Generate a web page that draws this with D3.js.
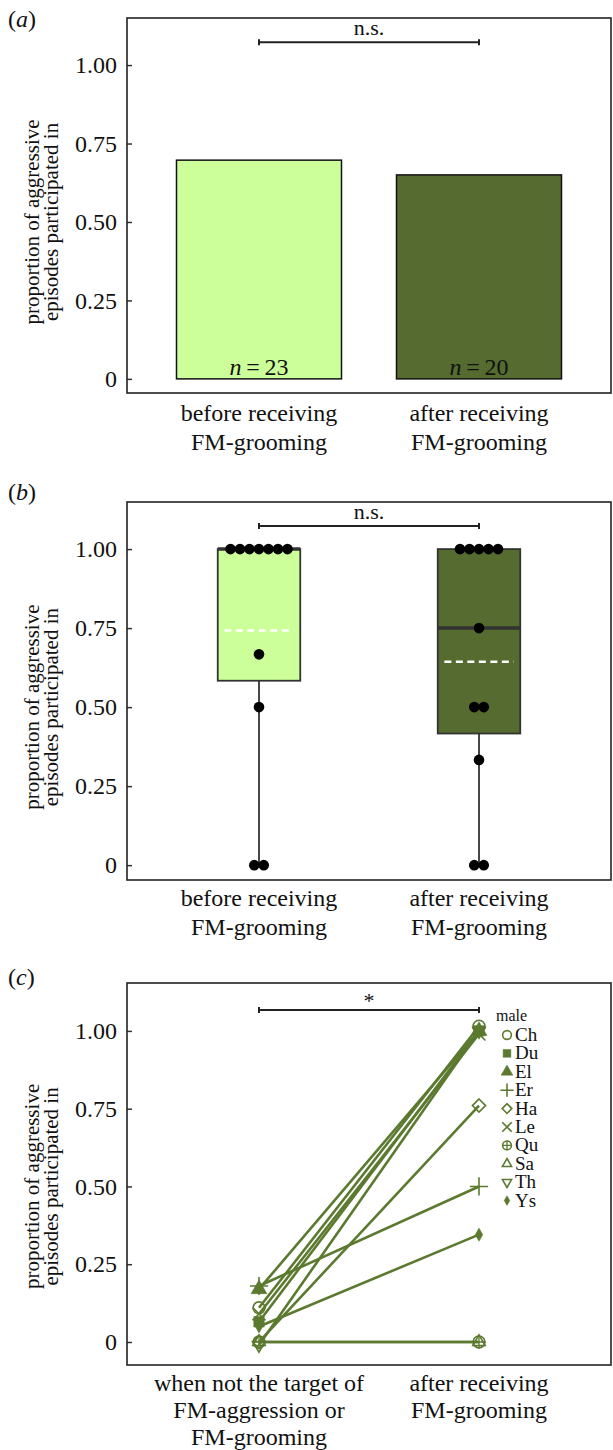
<!DOCTYPE html>
<html>
<head>
<meta charset="utf-8">
<script src="https://cdn.jsdelivr.net/npm/d3@7"></script>
<style>
body{margin:0;background:#fff}
text{font-family:"Liberation Serif","Times New Roman",serif;fill:#111}
</style>
</head>
<body>
<div id="chart"></div>
<script>
// data
var groupKeys=["before","after"]
var groupLabels=[["before receiving","FM-grooming"],["after receiving","FM-grooming"]]
var barProps=[0.697,0.65]
var barN=[23,20]
var beforeProps=[0,0,0.5,0.667,1,1,1,1,1,1,1]
var afterProps=[0,0,0.333,0.5,0.5,0.75,1,1,1,1,1]
var contextKeys=["notTarget","afterGroom"]
var contextLabels=[["when not the target of","FM-aggression or","FM-grooming"],["after receiving","FM-grooming"]]
var males=["Ch","Du","El","Er","Ha","Le","Qu","Sa","Th","Ys"]
var notTargetProps=[0.11,0.065,0.17,0.18,0,0.09,0,0,-0.01,0.05]
var afterGroomProps=[1.015,1.0,1.0,0.5,0.76,0.99,0,0,1.0,0.345]
var yTicks=[0,0.25,0.5,0.75,1]

var svgWidth=613
var svgHeight=1450
var lightGreen="#ccff99"
var darkGreen="#556b2f"
var lineGreen="#5b7a2f"
var fills=[lightGreen,darkGreen]
var frameLeft=127, frameRight=611

var svg=d3.select("#chart")
    .append("svg")
    .attr("width",svgWidth)
    .attr("height",svgHeight)

var fmt=d=>d===0?"0":d3.format(".2f")(d)

function makePanel(top,bottom,lo,hi,letter,letterY,keys,labels,labelY,labelGap){
    var g=svg.append("g")
    var y=d3.scaleLinear().domain([lo,hi]).range([bottom,top])
    var x=d3.scalePoint().domain(keys).range([frameLeft,frameRight]).padding(0.6)

    g.append("g")
        .attr("transform",`translate(${frameLeft},0)`)
        .call(d3.axisLeft(y).tickValues(yTicks).tickFormat(fmt).tickSize(-5).tickPadding(10))
        .call(a=>a.select(".domain").remove())
        .call(a=>a.selectAll("line").attr("stroke","#333").attr("stroke-width",1.5))
        .call(a=>a.selectAll("text").attr("font-size",24).attr("fill","#111")
            .style("font-family","'Liberation Serif','Times New Roman',serif"))

    g.append("rect")
        .attr("x",frameLeft).attr("y",top)
        .attr("width",frameRight-frameLeft).attr("height",bottom-top)
        .attr("fill","none").attr("stroke","#222").attr("stroke-width",1.6)

    var letterText=g.append("text").attr("x",8).attr("y",letterY).attr("font-size",24)
    letterText.append("tspan").text("(")
    letterText.append("tspan").attr("font-style","italic").text(letter)
    letterText.append("tspan").text(")")

    var midY=(y(0)+y(1))/2
    var yt=g.append("text")
        .attr("transform",`translate(0,${midY}) rotate(-90)`)
        .attr("text-anchor","middle").attr("font-size",21)
    yt.append("tspan").attr("x",0).attr("y",39).text("proportion of aggressive")
    yt.append("tspan").attr("x",0).attr("y",58).text("episodes participated in")

    keys.forEach((k,i)=>{
        var t=g.append("text").attr("text-anchor","middle").attr("font-size",24)
        labels[i].forEach((line,j)=>{
            t.append("tspan").attr("x",x(k)).attr("y",labelY+j*labelGap).text(line)
        })
    })
    return {g:g,x:x,y:y}
}

function bracket(p,val,label,labelDy){
    var x1=p.x(p.x.domain()[0]), x2=p.x(p.x.domain()[1]), yy=p.y(val)
    p.g.append("path")
        .attr("d",`M${x1},${yy-3}V${yy+3}M${x1},${yy}H${x2}M${x2},${yy-3}V${yy+3}`)
        .attr("stroke","#222").attr("stroke-width",2).attr("fill","none")
    p.g.append("text").attr("x",(x1+x2)/2).attr("y",yy+labelDy)
        .attr("text-anchor","middle").attr("font-size",22).text(label)
}

// (a) bar chart
var pa=makePanel(18,393,-0.045,1.15,"a",27,groupKeys,groupLabels,421,29)
var barW=pa.x.step()*0.75
pa.g.selectAll(".bar")
    .data(barProps)
    .enter()
    .append("rect")
    .attr("x",(d,i)=>pa.x(groupKeys[i])-barW/2)
    .attr("y",d=>pa.y(d))
    .attr("width",barW)
    .attr("height",d=>pa.y(0)-pa.y(d))
    .attr("fill",(d,i)=>fills[i])
    .attr("stroke","#111")
    .attr("stroke-width",1.5)
pa.g.selectAll(".nlab")
    .data(barN)
    .enter()
    .append("text")
    .attr("x",(d,i)=>pa.x(groupKeys[i]))
    .attr("y",pa.y(0)-4)
    .attr("text-anchor","middle")
    .attr("font-size",24)
    .each(function(d){
        var t=d3.select(this)
        t.append("tspan").attr("font-style","italic").text("n")
        t.append("tspan").text("\u2009=\u2009"+d)
    })
bracket(pa,1.073,"n.s.",-7)

// (b) box plot with dots
var pb=makePanel(502,880,-0.047,1.149,"b",500,groupKeys,groupLabels,906,29)
var boxW=pb.x.step()*0.375
var dotR=5.3, dotGap=9.5
;[beforeProps,afterProps].forEach((vals,i)=>{
    var cx=pb.x(groupKeys[i])
    var s=vals.slice().sort(d3.ascending)
    var q1=d3.quantile(s,0.25), med=d3.quantile(s,0.5), q3=d3.quantile(s,0.75)
    var iqr=q3-q1
    var lowW=d3.min(s.filter(v=>v>=q1-1.5*iqr)), highW=d3.max(s.filter(v=>v<=q3+1.5*iqr))
    var mean=d3.mean(s)
    pb.g.append("line").attr("x1",cx).attr("x2",cx).attr("y1",pb.y(q1)).attr("y2",pb.y(lowW))
        .attr("stroke","#333").attr("stroke-width",1.8)
    pb.g.append("line").attr("x1",cx).attr("x2",cx).attr("y1",pb.y(q3)).attr("y2",pb.y(highW))
        .attr("stroke","#333").attr("stroke-width",1.8)
    pb.g.append("rect")
        .attr("x",cx-boxW/2).attr("y",pb.y(q3))
        .attr("width",boxW).attr("height",pb.y(q1)-pb.y(q3))
        .attr("fill",fills[i]).attr("stroke","#333").attr("stroke-width",1.8)
    pb.g.append("line").attr("x1",cx-boxW/2).attr("x2",cx+boxW/2)
        .attr("y1",pb.y(med)).attr("y2",pb.y(med))
        .attr("stroke","#333").attr("stroke-width",3.5)
    pb.g.append("line").attr("x1",cx-boxW*0.42).attr("x2",cx+boxW*0.42)
        .attr("y1",pb.y(mean)).attr("y2",pb.y(mean))
        .attr("stroke","#fff").attr("stroke-width",2.5).attr("stroke-dasharray","7,4.5")
    var counts=d3.rollup(s,v=>v.length,d=>d)
    var dots=[]
    counts.forEach((n,v)=>{
        for(var k=0;k<n;k++) dots.push({v:v,off:(k-(n-1)/2)*dotGap})
    })
    pb.g.selectAll(".dot"+i)
        .data(dots)
        .enter()
        .append("circle")
        .attr("cx",d=>cx+d.off)
        .attr("cy",d=>pb.y(d.v))
        .attr("r",dotR)
        .attr("fill","#000")
})
bracket(pb,1.073,"n.s.",-7)

// (c) paired lines per male
var pc=makePanel(983,1365,-0.074,1.154,"c",985,contextKeys,contextLabels,1391,27)
var shapes={
    Ch:{sym:d3.symbolCircle,fill:false},
    Du:{sym:d3.symbolSquare,fill:true},
    El:{sym:d3.symbolTriangle,fill:true},
    Er:{sym:d3.symbolPlus,fill:false},
    Ha:{sym:d3.symbolDiamond2,fill:false},
    Le:{sym:d3.symbolTimes,fill:false},
    Qu:{sym:d3.symbolCircle,fill:false,plus:true},
    Sa:{sym:d3.symbolTriangle2,fill:false},
    Th:{sym:d3.symbolTriangle2,fill:false,rot:180},
    Ys:{sym:d3.symbolDiamond,fill:true,small:true}
}
function addSymbol(g,name,px,py,size){
    var s=shapes[name]
    var sz=s.small?size*0.45:size
    g.append("path")
        .attr("d",d3.symbol(s.sym,sz)())
        .attr("transform",`translate(${px},${py})`+(s.rot?` rotate(${s.rot})`:""))
        .attr("fill",s.fill?lineGreen:"none")
        .attr("stroke",lineGreen)
        .attr("stroke-width",s.fill?0.5:1.6)
    if(s.plus){
        g.append("path")
            .attr("d",d3.symbol(d3.symbolPlus,sz*0.55)())
            .attr("transform",`translate(${px},${py})`)
            .attr("fill","none").attr("stroke",lineGreen).attr("stroke-width",1.3)
    }
}
var pairLine=d3.line().x(d=>pc.x(d.k)).y(d=>pc.y(d.v))
var pairs=males.map((m,i)=>({m:m,pts:[{k:contextKeys[0],v:notTargetProps[i]},{k:contextKeys[1],v:afterGroomProps[i]}]}))
pc.g.selectAll(".pair")
    .data(pairs)
    .enter()
    .append("path")
    .attr("d",d=>pairLine(d.pts))
    .attr("fill","none")
    .attr("stroke",lineGreen)
    .attr("stroke-width",2.6)
pairs.forEach(p=>{
    p.pts.forEach(pt=>addSymbol(pc.g,p.m,pc.x(pt.k),pc.y(pt.v),110))
})
bracket(pc,1.067,"*",-2)

// legend
var leg=pc.g.append("g")
leg.append("text").attr("x",496).attr("y",1021).attr("font-size",16).text("male")
males.forEach((m,i)=>{
    var ly=1035+i*18.4
    addSymbol(leg,m,507,ly,60)
    leg.append("text").attr("x",515).attr("y",ly+6).attr("font-size",19).text(m)
})
</script>
</body>
</html>
